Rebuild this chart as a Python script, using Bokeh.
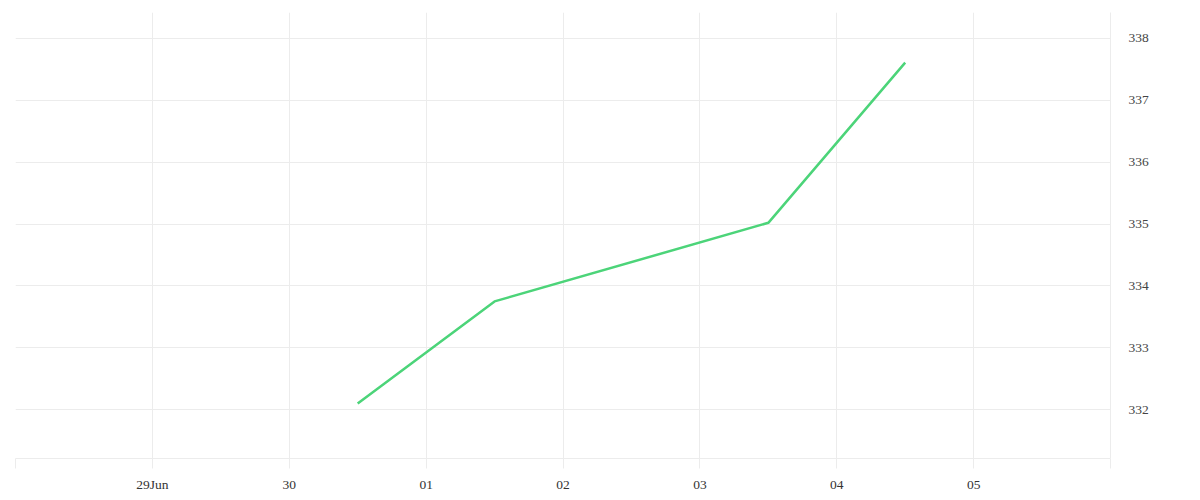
from datetime import datetime
from bokeh.plotting import figure
from bokeh.models import ColumnDataSource, Range1d, LinearAxis, FixedTicker, DatetimeAxis, Grid
from bokeh.embed import file_html
from bokeh.resources import INLINE

# data
dates = [datetime(2020, 6, 30, 12), datetime(2020, 7, 1, 12), datetime(2020, 7, 3, 12), datetime(2020, 7, 4, 12)]
values = [332.1, 333.75, 335.02, 337.61]
tick_dates = [datetime(2020, 6, d) for d in (28, 29, 30)] + [datetime(2020, 7, d) for d in range(1, 7)]
tick_labels = ["", "29Jun", "30", "01", "02", "03", "04", "05", ""]
y_ticks = [332, 333, 334, 335, 336, 337, 338]

def ms(d):
    return (d - datetime(1970, 1, 1)).total_seconds() * 1000.0

src = ColumnDataSource(dict(x=dates, y=values))

p = figure(width=1192, height=494, x_axis_type=None, y_axis_type=None,
           output_backend="svg", toolbar_location=None,
           x_range=Range1d(ms(tick_dates[0]), ms(tick_dates[-1])),
           y_range=Range1d(331.21, 338.42),
           min_border_left=15, min_border_top=12, min_border_right=82)
p.outline_line_color = None
p.background_fill_color = "white"
p.border_fill_color = "white"

grid_col = "#ececec"
font = "Liberation Serif"

xticker = FixedTicker(ticks=[ms(d) for d in tick_dates])
yticker = FixedTicker(ticks=y_ticks)

xax = DatetimeAxis(ticker=xticker)
xax.major_label_overrides = {ms(d): lab for d, lab in zip(tick_dates, tick_labels)}
xax.axis_line_color = grid_col
xax.major_tick_line_color = grid_col
xax.major_tick_in = 0
xax.major_tick_out = 10
xax.minor_tick_line_color = None
xax.major_label_standoff = 8
xax.major_label_text_font = font
xax.major_label_text_font_size = "13.5px"
xax.major_label_text_color = "#333333"
p.add_layout(xax, "below")

yax = LinearAxis(ticker=yticker)
yax.axis_line_color = grid_col
yax.major_tick_line_color = None
yax.minor_tick_line_color = None
yax.major_label_standoff = 12
yax.major_label_text_font = font
yax.major_label_text_font_size = "13.5px"
yax.major_label_text_color = "#444444"
p.add_layout(yax, "right")

p.add_layout(Grid(dimension=0, ticker=xticker, grid_line_color=grid_col))
p.add_layout(Grid(dimension=1, ticker=yticker, grid_line_color=grid_col))

p.line("x", "y", source=src, line_color="#4cd479", line_width=2.5)

open("out.html", "w").write(file_html(p, INLINE))
